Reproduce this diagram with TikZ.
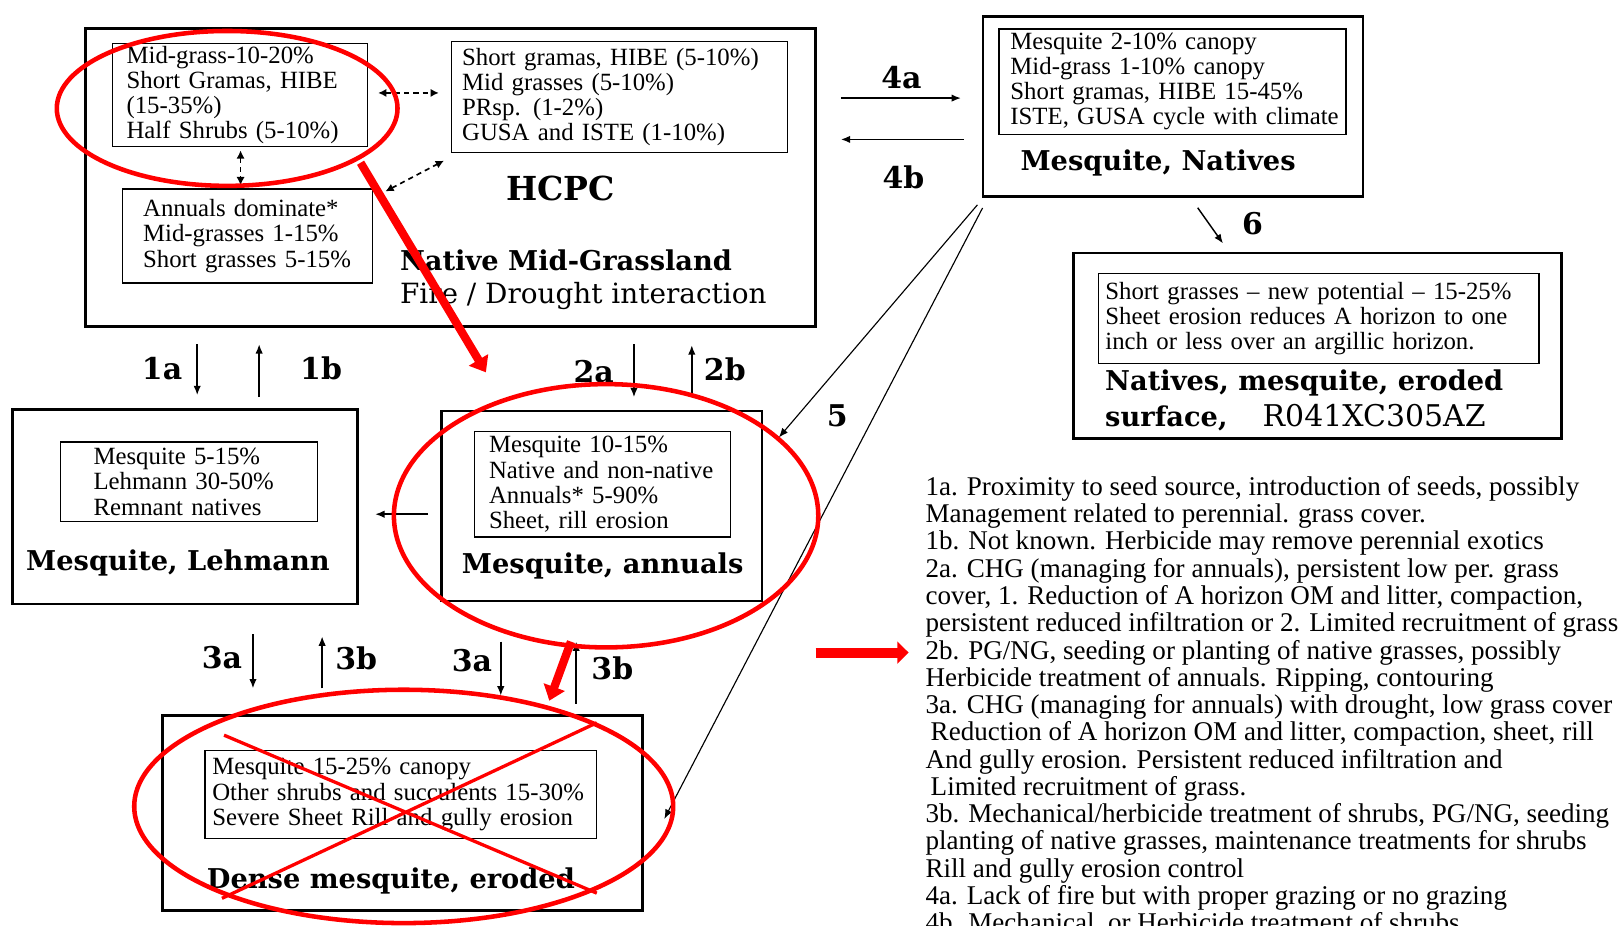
\documentclass[tikz,border=0pt]{standalone}
\usepackage{fontspec}
\setmainfont{Liberation Serif}
\newfontfamily\slabfont{DejaVu Serif}
\usetikzlibrary{arrows.meta}
\tikzset{
  outbox/.style={draw, line width=1.4pt, inner sep=0pt},
  inbox/.style={draw, line width=0.6pt, anchor=west, align=left, inner ysep=0pt, font=\fontsize{12}{12.2}\selectfont},
  ttl/.style={anchor=west, inner sep=0pt, align=left, font=\slabfont\bfseries\fontsize{13.2}{17.5}\selectfont},
  lbl/.style={inner sep=0pt, font=\slabfont\bfseries\fontsize{14.5}{15}\selectfont},
  arr/.style={line width=0.7pt, -{Latex[length=4.5pt,width=3.6pt]}},
  dotarr/.style={line width=0.8pt, dash pattern=on 2.5pt off 2pt, {Latex[length=4pt,width=4pt]}-{Latex[length=4pt,width=4pt]}},
  redring/.style={draw=red, line width=2.2pt},
  redarr/.style={draw=red, line width=4pt, -{Triangle[length=7pt,width=10.5pt]}}
}
\begin{document}
\begin{tikzpicture}[x=0.5pt, y=-0.5pt]
\path[use as bounding box, fill=white] (0,0) rectangle (1568,896);

\node[outbox, minimum width=353.5pt, minimum height=144pt] (hcpc) at (436.5,172) {};
\node[outbox, minimum width=184pt, minimum height=87pt] (natives) at (1136,103) {};
\node[outbox, minimum width=236pt, minimum height=90pt] (eroded) at (1276,335) {};
\node[outbox, minimum width=167pt, minimum height=94pt] (lehmann) at (179,491) {};
\node[outbox, minimum width=155pt, minimum height=92pt] (annuals) at (583,490) {};
\node[outbox, minimum width=232.5pt, minimum height=94.5pt] (dense) at (389.5,787.5) {};

\node[inbox, inner xsep=7pt, text width=109.5pt, minimum height=50pt] (mgA) at (108,92)
  {Mid-grass-10-20\%\\Short Gramas, HIBE\\(15-35\%)\\Half Shrubs (5-10\%)};
\node[inbox, inner xsep=5pt, text width=152.5pt, minimum height=54pt] (sgB) at (437,94)
  {Short gramas, HIBE (5-10\%)\\Mid grasses (5-10\%)\\PRsp. (1-2\%)\\GUSA and ISTE (1-10\%)};
\node[inbox, inner xsep=10pt, text width=101pt, minimum height=45.5pt] (annC) at (118,228.5)
  {Annuals dominate*\\Mid-grasses 1-15\%\\Short grasses 5-15\%};
\node[inbox, inner xsep=3pt, text width=162pt, minimum height=51pt] (natIn) at (967,79)
  {\hspace*{2.5pt}Mesquite 2-10\% canopy\\\hspace*{2.5pt}Mid-grass 1-10\% canopy\\\hspace*{2.5pt}Short gramas, HIBE 15-45\%\\\hspace*{2.5pt}ISTE, GUSA cycle with climate};
\node[inbox, inner xsep=3.5pt, text width=206.5pt, minimum height=43.5pt] (eroIn) at (1063,308.5)
  {Short grasses -- new potential -- 15-25\%\\Sheet erosion reduces A horizon to one\\inch or less over an argillic horizon.};
\node[inbox, inner xsep=16pt, text width=92.5pt, minimum height=38.5pt] (lehIn) at (58,466.5)
  {Mesquite 5-15\%\\Lehmann 30-50\%\\Remnant natives};
\node[inbox, inner xsep=7pt, text width=110pt, minimum height=51pt] (annIn) at (459,469)
  {Mesquite 10-15\%\\Native and non-native\\Annuals* 5-90\%\\Sheet, rill erosion};
\node[inbox, inner xsep=3.5pt, text width=182.5pt, minimum height=42.5pt] (denIn) at (198,769.5)
  {Mesquite 15-25\% canopy\\Other shrubs and succulents 15-30\%\\Severe Sheet Rill and gully erosion};

\node[lbl, font=\slabfont\bfseries\fontsize{16}{18}\selectfont] (hcpcName) at (543,183) {HCPC};
\node[ttl] (hcpcTtl) at (387,252) {Native Mid-Grassland};
\node[ttl, font=\slabfont\fontsize{13.5}{16}\selectfont] (hcpcSub) at (387,287) {Fire / Drought interaction};
\node[ttl] (natTtl) at (988,158) {Mesquite, Natives};
\node[ttl] (eroTtl) at (1070,387.5) {Natives, mesquite, eroded\\surface,\hspace{17pt}{\mdseries\fontsize{14.5}{17.5}\selectfont R041XC305AZ}};
\node[ttl] (lehTtl) at (25,545) {Mesquite, Lehmann};
\node[ttl] (annTtl) at (447,548) {Mesquite, annuals};
\node[ttl] (denTtl) at (200,853) {Dense mesquite, eroded};

\node[lbl] (l4a) at (873,75) {4a};
\node[lbl] (l4b) at (875,172) {4b};
\node[lbl] (l6) at (1213,217) {6};
\node[lbl] (l1a) at (157,357) {1a};
\node[lbl] (l1b) at (311,357) {1b};
\node[lbl] (l2a) at (575,360) {2a};
\node[lbl] (l2b) at (702,358) {2b};
\node[lbl] (l5) at (811,403) {5};
\node[lbl] (l3aL) at (215,637) {3a};
\node[lbl] (l3bL) at (345,638) {3b};
\node[lbl] (l3aR) at (457,640) {3a};
\node[lbl] (l3bR) at (593,647) {3b};

\node[anchor=north west, inner sep=0pt, align=left, font=\fontsize{13.1}{13.2}\selectfont] (notes) at (896,461)
  {1a. Proximity to seed source, introduction of seeds, possibly\\
   Management related to perennial. grass cover.\\
   1b. Not known. Herbicide may remove perennial exotics\\
   2a. CHG (managing for annuals), persistent low per. grass\\
   cover, 1. Reduction of A horizon OM and litter, compaction,\\
   persistent reduced infiltration or 2. Limited recruitment of grass\\
   2b. PG/NG, seeding or planting of native grasses, possibly\\
   Herbicide treatment of annuals. Ripping, contouring\\
   3a. CHG (managing for annuals) with drought, low grass cover\\
   \hspace*{2.5pt}Reduction of A horizon OM and litter, compaction, sheet, rill\\
   And gully erosion. Persistent reduced infiltration and\\
   \hspace*{2.5pt}Limited recruitment of grass.\\
   3b. Mechanical/herbicide treatment of shrubs, PG/NG, seeding\\
   planting of native grasses, maintenance treatments for shrubs\\
   Rill and gully erosion control\\
   4a. Lack of fire but with proper grazing or no grazing\\
   4b. Mechanical, or Herbicide treatment of shrubs};

\draw[dotarr, shorten <=5pt, shorten >=6pt] (mgA.east |- 0,90) -- (sgB.west |- 0,90);
\draw[dotarr, shorten <=1.5pt, shorten >=1.5pt] (mgA.south -| 233,0) -- (annC.north -| 233,0);
\draw[dotarr] ([shift={(12,3)}]annC.north east) -- ([shift={(-7,7)}]sgB.south west);

\draw[arr, shorten <=11.5pt, shorten >=10pt] (hcpc.east |- 0,95) -- (natives.west |- 0,95);
\draw[arr, shorten <=8.5pt, shorten >=11.5pt] (natives.west |- 0,135) -- (hcpc.east |- 0,135);
\draw[arr, shorten <=6pt, shorten >=4.8pt] (natives.south -| 1153,0) -- (eroded.north -| 1190,0);
\draw[arr, shorten <=8pt, shorten >=6.5pt] (hcpc.south -| 191,0) -- (lehmann.north -| 191,0);
\draw[arr, shorten <=5.5pt, shorten >=8pt] (lehmann.north -| 251,0) -- (hcpc.south -| 251,0);
\draw[arr, shorten <=8pt, shorten >=6pt] (hcpc.south -| 614,0) -- (annuals.north -| 614,0);
\draw[arr, shorten <=6pt, shorten >=8.5pt] (annuals.north -| 670,0) -- (hcpc.south -| 670,0);
\draw[arr, shorten <=6pt, shorten >=8pt] (annuals.west |- 0,498) -- (lehmann.east |- 0,498);
\draw[arr, shorten <=14pt, shorten >=12.5pt] (lehmann.south -| 245,0) -- (dense.north -| 245,0);
\draw[arr, shorten <=12.5pt, shorten >=15pt] (dense.north -| 312,0) -- (lehmann.south -| 312,0);
\draw[arr, shorten <=19pt, shorten >=9pt] (annuals.south -| 485,0) -- (dense.north -| 485,0);
\draw[arr, shorten <=5pt, shorten >=19pt] (dense.north -| 558,0) -- (annuals.south -| 558,0);
\draw[arr, line width=0.55pt] ([shift={(-4,7)}]natives.south west) -- ([shift={(15,27)}]annuals.north east);
\draw[arr, line width=0.55pt] ([shift={(1,10)}]natives.south west) -- ([shift={(20,5.5)}]dense.east);

\draw[redring] (220,105) ellipse [x radius=82.5pt, y radius=37.5pt];
\draw[redring] (587,499.5) ellipse [x radius=102.75pt, y radius=63.75pt];
\draw[redring] (391,781) ellipse [x radius=130.5pt, y radius=56.5pt];
\draw[redring, line width=1.6pt] (217,712) -- (578,865) (578,700) -- (215,870);
\draw[redarr] ([shift={(-7,15)}]mgA.south east) -- ([shift={(44,-36)}]annuals.north west);
\draw[redarr] ([shift={(-30,38)}]annuals.south) -- ([shift={(142.5,-13)}]dense.north);
\coordinate (redtail) at (790,632);
\draw[redarr, line width=4.8pt, -{Triangle[length=5.5pt,width=10.5pt]}, shorten >=8pt] (redtail) -- (notes.west |- redtail);
\end{tikzpicture}
\end{document}
